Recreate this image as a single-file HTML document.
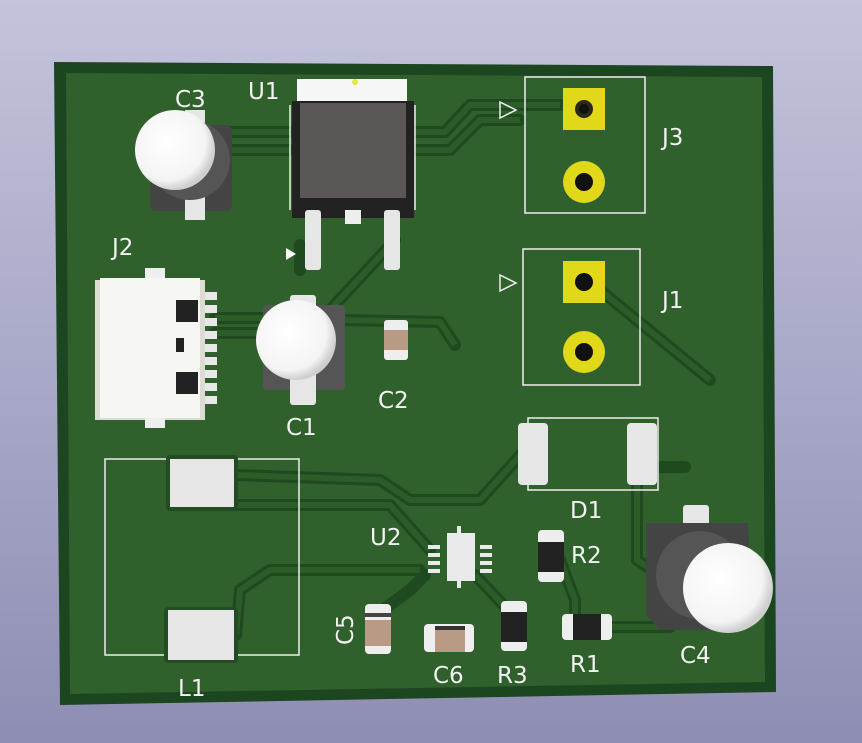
<!DOCTYPE html>
<html><head><meta charset="utf-8"><style>
html,body{margin:0;padding:0;width:862px;height:743px;overflow:hidden;background:linear-gradient(#c3c3dc,#8e8eb4);}
svg{display:block}
text{font-family:"DejaVu Sans","Liberation Sans",sans-serif;fill:#f2f2f2;font-size:23px}
</style></head><body>
<svg width="862" height="743" viewBox="0 0 862 743">
<defs>
<radialGradient id="cap" cx="0.4" cy="0.4" r="0.6"><stop offset="0" stop-color="#ffffff"/><stop offset="0.8" stop-color="#f4f4f4"/><stop offset="1" stop-color="#cfcfcf"/></radialGradient>
</defs>
<polygon points="54,62 773,66 776,692 60,705" fill="#1c4620"/>
<polygon points="66,73 762,77 765,682 70,694" fill="#30602c"/>
<g fill="none" stroke="#1f4a20" stroke-width="12" stroke-linejoin="round" stroke-linecap="round">
<path d="M230,132 L290,132 M230,150 L290,150"/>
<path d="M415,132 L445,132 L470,105 L560,105 M415,150 L450,150 L480,120 L520,120"/>
<path d="M215,318 L265,318 M215,333 L260,333"/>
<path d="M330,310 L395,240"/>
<path d="M345,320 L440,322 L455,345"/>
<path d="M600,290 L710,380"/>
<path d="M236,475 L380,480 L410,500 L480,500 L525,450"/>
<path d="M230,505 L390,505 L430,550"/>
<path d="M236,635 L240,590 L270,570 L420,570"/>
<path d="M380,612 L410,590 L425,575"/>
<path d="M475,575 L510,612"/>
<path d="M560,560 L575,600 L575,625"/>
<path d="M600,627 L670,627"/>
<path d="M637,485 L637,560 L660,575"/>
<path d="M660,467 L685,467"/>
<path d="M300,270 L300,245"/>
</g>
<g fill="none" stroke="#2c5c28" stroke-width="6" stroke-linejoin="round">
<path d="M230,132 L290,132 M230,150 L290,150"/>
<path d="M415,132 L445,132 L470,105 L560,105 M415,150 L450,150 L480,120 L520,120"/>
<path d="M215,318 L265,318 M215,333 L260,333"/>
<path d="M330,310 L395,240"/>
<path d="M345,320 L440,322 L455,345"/>
<path d="M600,290 L710,380"/>
<path d="M236,475 L380,480 L410,500 L480,500 L525,450"/>
<path d="M230,505 L390,505 L430,550"/>
<path d="M236,635 L240,590 L270,570 L420,570"/>
<path d="M475,575 L510,612"/>
<path d="M560,560 L575,600 L575,625"/>
<path d="M600,627 L670,627"/>
<path d="M637,485 L637,560 L660,575"/>
</g>
<g fill="none" stroke="#eeeeee" stroke-width="1.5">
<rect x="525" y="77" width="120" height="136"/>
<rect x="523" y="249" width="117" height="136"/>
<rect x="105" y="459" width="194" height="196"/>
<rect x="528" y="418" width="130" height="72"/>
<path d="M290,105 L290,210 M415,105 L415,210"/>
</g>
<polygon points="500,102 516,110 500,118" fill="none" stroke="#eee" stroke-width="1.5"/>
<polygon points="500,275 516,283 500,291" fill="none" stroke="#eee" stroke-width="1.5"/>
<g>
<rect x="563" y="88" width="42" height="42" fill="#e2d81a"/><circle cx="584" cy="109" r="9" fill="#2a2a1a"/><circle cx="584" cy="109" r="5" fill="#111"/>
<circle cx="584" cy="182" r="21" fill="#e2d81a"/><circle cx="584" cy="182" r="9" fill="#111"/>
<rect x="563" y="261" width="42" height="42" fill="#e2d81a"/><circle cx="584" cy="282" r="9" fill="#111"/>
<circle cx="584" cy="352" r="21" fill="#e2d81a"/><circle cx="584" cy="352" r="9" fill="#111"/>
</g>
<rect x="297" y="79" width="110" height="24" fill="#f6f6f6"/>
<rect x="292" y="101" width="122" height="117" fill="#222"/>
<rect x="300" y="103" width="106" height="95" fill="#5c5757"/>
<circle cx="355" cy="82" r="3" fill="#e8e83a"/>
<rect x="305" y="210" width="16" height="60" rx="3" fill="#e6e6e6"/><rect x="384" y="210" width="16" height="60" rx="3" fill="#e6e6e6"/>
<rect x="345" y="210" width="16" height="14" fill="#eee"/>
<polygon points="286,248 296,254 286,260" fill="#fff"/>
<rect x="150" y="125" width="82" height="86" rx="6" fill="#444"/>
<rect x="185" y="110" width="20" height="110" fill="#e6e6e6"/>
<circle cx="190" cy="160" r="40" fill="#555"/>
<circle cx="175" cy="150" r="40" fill="url(#cap)"/>
<rect x="95" y="280" width="110" height="140" fill="#dcdcd4"/>
<rect x="100" y="278" width="100" height="140" fill="#f6f6f2"/>
<rect x="176" y="300" width="22" height="22" fill="#222"/><rect x="176" y="372" width="22" height="22" fill="#222"/>
<rect x="176" y="338" width="8" height="14" fill="#222"/>
<g fill="#e8e8e8"><rect x="205" y="292" width="12" height="8"/><rect x="205" y="305" width="12" height="8"/><rect x="205" y="318" width="12" height="8"/><rect x="205" y="331" width="12" height="8"/><rect x="205" y="344" width="12" height="8"/><rect x="205" y="357" width="12" height="8"/><rect x="205" y="370" width="12" height="8"/><rect x="205" y="383" width="12" height="8"/><rect x="205" y="396" width="12" height="8"/></g>
<rect x="145" y="268" width="20" height="10" fill="#eee"/><rect x="145" y="418" width="20" height="10" fill="#eee"/>
<rect x="263" y="305" width="82" height="85" rx="4" fill="#555"/>
<rect x="290" y="295" width="26" height="110" rx="3" fill="#e6e6e6"/>
<circle cx="296" cy="340" r="40" fill="url(#cap)"/>
<rect x="384" y="320" width="24" height="40" rx="3" fill="#eee"/><rect x="384" y="330" width="24" height="20" fill="#b89a85"/>
<rect x="518" y="423" width="30" height="62" rx="4" fill="#e6e6e6"/><rect x="627" y="423" width="30" height="62" rx="4" fill="#e6e6e6"/>
<rect x="447" y="533" width="28" height="48" fill="#eaeaea"/>
<g fill="#eaeaea"><rect x="428" y="545" width="12" height="4"/><rect x="428" y="553" width="12" height="4"/><rect x="428" y="561" width="12" height="4"/><rect x="428" y="569" width="12" height="4"/><rect x="480" y="545" width="12" height="4"/><rect x="480" y="553" width="12" height="4"/><rect x="480" y="561" width="12" height="4"/><rect x="480" y="569" width="12" height="4"/><rect x="457" y="526" width="4" height="8"/><rect x="457" y="580" width="4" height="8"/></g>
<rect x="538" y="530" width="26" height="52" rx="4" fill="#eee"/><rect x="538" y="542" width="26" height="30" fill="#222"/>
<rect x="501" y="601" width="26" height="50" rx="4" fill="#eee"/><rect x="501" y="612" width="26" height="30" fill="#222"/>
<rect x="365" y="604" width="26" height="50" rx="4" fill="#eee"/><rect x="365" y="620" width="26" height="26" fill="#b89a85"/><rect x="365" y="613" width="26" height="4" fill="#444"/>
<rect x="424" y="624" width="50" height="28" rx="4" fill="#eee"/><rect x="435" y="626" width="30" height="26" fill="#b89a85"/><rect x="435" y="626" width="30" height="4" fill="#333"/>
<rect x="562" y="614" width="50" height="26" rx="4" fill="#eee"/><rect x="573" y="614" width="28" height="26" fill="#222"/>
<rect x="166" y="455" width="72" height="56" rx="4" fill="#244c24"/><rect x="170" y="459" width="64" height="48" fill="#e6e6e6"/>
<rect x="164" y="607" width="74" height="56" rx="4" fill="#244c24"/><rect x="168" y="610" width="66" height="50" fill="#e6e6e6"/>
<rect x="683" y="505" width="26" height="125" rx="3" fill="#e6e6e6"/>
<polygon points="646,523 748,523 752,610 735,630 660,630 646,615" fill="#444"/>
<circle cx="700" cy="575" r="44" fill="#555"/>
<circle cx="728" cy="588" r="45" fill="url(#cap)"/>
<text x="175" y="107">C3</text>
<text x="248" y="99">U1</text>
<text x="662" y="145">J3</text>
<text x="662" y="308">J1</text>
<text x="112" y="255">J2</text>
<text x="378" y="408">C2</text>
<text x="286" y="435">C1</text>
<text x="570" y="518">D1</text>
<text x="370" y="545">U2</text>
<text x="571" y="563">R2</text>
<text x="433" y="683">C6</text>
<text x="497" y="683">R3</text>
<text x="570" y="672">R1</text>
<text x="680" y="663">C4</text>
<text x="178" y="696">L1</text>
<text transform="translate(353,645) rotate(-90)">C5</text>
</svg>
</body></html>
